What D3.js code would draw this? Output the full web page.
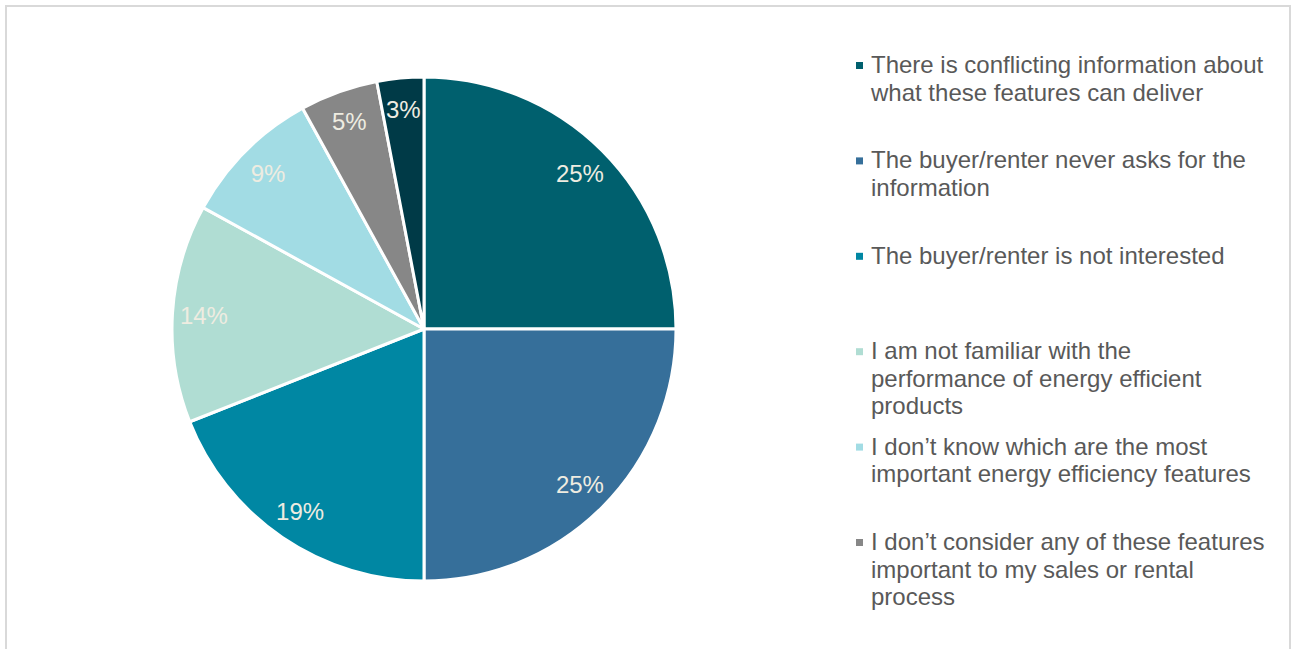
<!DOCTYPE html>
<html>
<head>
<meta charset="utf-8">
<script src="https://cdn.jsdelivr.net/npm/d3@7"></script>
<style>
  body { margin: 0; background: #ffffff; }
  svg { display: block; }
  text { font-family: "Liberation Sans", Arial, sans-serif; }
</style>
</head>
<body>
<svg id="chart" width="1291" height="649"></svg>
<script>
// Reasons given for not discussing energy efficiency features
const categories = [
  "There is conflicting information about\nwhat these features can deliver",
  "The buyer/renter never asks for the\ninformation",
  "The buyer/renter is not interested",
  "I am not familiar with the\nperformance of energy efficient\nproducts",
  "I don\u2019t know which are the most\nimportant energy efficiency features",
  "I don\u2019t consider any of these features\nimportant to my sales or rental\nprocess",
  "Other"
];
const shares = [25, 25, 19, 14, 9, 5, 3];
const sliceColors = ["#00606e", "#366f9a", "#0087a3", "#b0ddd3", "#a2dce4", "#878787", "#003a47"];

const W = 1291, H = 649;
const svg = d3.select("#chart");

// frame
svg.append("path")
  .attr("d", `M6,${H + 5} V6 H1290 V${H + 5}`)
  .attr("fill", "none")
  .attr("stroke", "#d9d9d9")
  .attr("stroke-width", 2);

// pie
const cx = 424, cy = 329, radius = 252;
const pie = d3.pie().sort(null).value(d => d.value);
const arc = d3.arc().innerRadius(0).outerRadius(radius);
const labelArc = d3.arc().innerRadius(radius * 0.875).outerRadius(radius * 0.875);

const data = categories.map((c, i) => ({ name: c, value: shares[i], color: sliceColors[i] }));
const arcs = pie(data);

const g = svg.append("g").attr("transform", `translate(${cx},${cy})`);
g.selectAll("path.slice")
  .data(arcs)
  .join("path")
  .attr("class", "slice")
  .attr("d", arc)
  .attr("fill", d => d.data.color)
  .attr("stroke", "#ffffff")
  .attr("stroke-width", 3)
  .attr("stroke-linejoin", "round");

g.selectAll("text.lbl")
  .data(arcs)
  .join("text")
  .attr("class", "lbl")
  .attr("transform", d => `translate(${labelArc.centroid(d)})`)
  .attr("text-anchor", "middle")
  .attr("dominant-baseline", "central")
  .attr("font-size", 24)
  .attr("fill", "#eeece1")
  .text(d => d3.format(".0%")(d.data.value / 100));

// legend
const legendX = 856, textX = 871, firstBaseline = 73, slot = 95.4, lineH = 27.5;
const legend = svg.append("g");
data.forEach((d, i) => {
  const lines = d.name.split("\n");
  const base = firstBaseline + i * slot;
  if (base + (lines.length - 1) * lineH + 6 > H) return;
  legend.append("rect")
    .attr("x", legendX).attr("y", base - 11)
    .attr("width", 7).attr("height", 7)
    .attr("fill", d.color);
  const t = legend.append("text")
    .attr("x", textX).attr("y", base)
    .attr("font-size", 24)
    .attr("fill", "#595959");
  lines.forEach((ln, j) => {
    t.append("tspan").attr("x", textX).attr("y", base + j * lineH).text(ln);
  });
});
</script>
</body>
</html>
